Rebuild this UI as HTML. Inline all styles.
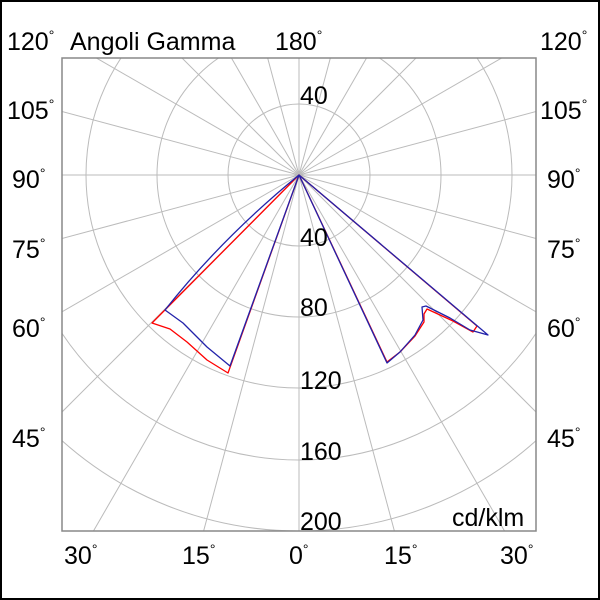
<!DOCTYPE html>
<html><head><style>html,body{margin:0;padding:0;background:#fff;overflow:hidden;width:600px;height:600px}svg{display:block;position:absolute;left:0;top:0}text{font-family:"Liberation Sans",sans-serif;font-size:25px;fill:#000}</style></head><body>
<svg width="600" height="600" viewBox="0 0 600 600">
<rect x="1" y="1" width="598" height="598" fill="#fff" stroke="#000" stroke-width="2"/>
<defs><clipPath id="c"><rect x="62" y="58" width="474" height="473"/></clipPath></defs>
<g clip-path="url(#c)" stroke="#bbb" stroke-width="1" fill="none">
<circle cx="299" cy="175" r="71"/><circle cx="299" cy="175" r="142"/><circle cx="299" cy="175" r="213"/><circle cx="299" cy="175" r="285"/><circle cx="299" cy="175" r="356"/>
<g id="rl">
<line x1="299" y1="175" x2="299" y2="-600"/><line x1="299" y1="175" x2="299" y2="900"/>
</g>
<use href="#rl" transform="rotate(15 299 175)"/><use href="#rl" transform="rotate(30 299 175)"/><use href="#rl" transform="rotate(45 299 175)"/><use href="#rl" transform="rotate(60 299 175)"/><use href="#rl" transform="rotate(75 299 175)"/><use href="#rl" transform="rotate(90 299 175)"/><use href="#rl" transform="rotate(105 299 175)"/><use href="#rl" transform="rotate(120 299 175)"/><use href="#rl" transform="rotate(135 299 175)"/><use href="#rl" transform="rotate(150 299 175)"/><use href="#rl" transform="rotate(165 299 175)"/>
</g>
<rect x="62" y="58" width="474" height="473" fill="none" stroke="#888" stroke-width="1.5"/>
<g fill="none" stroke-width="1.3" stroke-linejoin="round">
<path d="M299,175 L152,323 L170,329 L187,342 L207,360 L228,373 Z M299,175 L387,362 L400,352 L415,336 L424,322 L424,314 L427,309 L453,321 L473,332 L477,326 Z" stroke="#f00"/>
<path d="M299,175 Q222,238 165,310 L183,323 L207,347 L230,366 Z M299,175 L387,363 L400,352 L415,335 L423,320 L422,307 L426,306 L450,318 L470,330 L488,335 Z" stroke="#22a"/>
</g>
<text x="7" y="50">120<tspan font-size="14" dy="-10">°</tspan></text><text x="70" y="50" font-size="26">Angoli Gamma</text><text x="275" y="50">180<tspan font-size="14" dy="-10">°</tspan></text><text x="540" y="50">120<tspan font-size="14" dy="-10">°</tspan></text>
<text x="7" y="119">105<tspan font-size="14" dy="-10">°</tspan></text><text x="540" y="119">105<tspan font-size="14" dy="-10">°</tspan></text>
<text x="12" y="188">90<tspan font-size="14" dy="-10">°</tspan></text><text x="547" y="188">90<tspan font-size="14" dy="-10">°</tspan></text>
<text x="12" y="258">75<tspan font-size="14" dy="-10">°</tspan></text><text x="547" y="258">75<tspan font-size="14" dy="-10">°</tspan></text>
<text x="12" y="337">60<tspan font-size="14" dy="-10">°</tspan></text><text x="547" y="337">60<tspan font-size="14" dy="-10">°</tspan></text>
<text x="12" y="447">45<tspan font-size="14" dy="-10">°</tspan></text><text x="547" y="447">45<tspan font-size="14" dy="-10">°</tspan></text>
<text x="64" y="564">30<tspan font-size="14" dy="-10">°</tspan></text><text x="182" y="564">15<tspan font-size="14" dy="-10">°</tspan></text><text x="289" y="564">0<tspan font-size="14" dy="-10">°</tspan></text><text x="384" y="564">15<tspan font-size="14" dy="-10">°</tspan></text><text x="500" y="564">30<tspan font-size="14" dy="-10">°</tspan></text>
<text x="300" y="104">40</text><text x="300" y="246">40</text><text x="300" y="316">80</text><text x="300" y="389">120</text><text x="300" y="460">160</text><text x="300" y="530">200</text>
<text x="452" y="526">cd/klm</text>
</svg></body></html>
